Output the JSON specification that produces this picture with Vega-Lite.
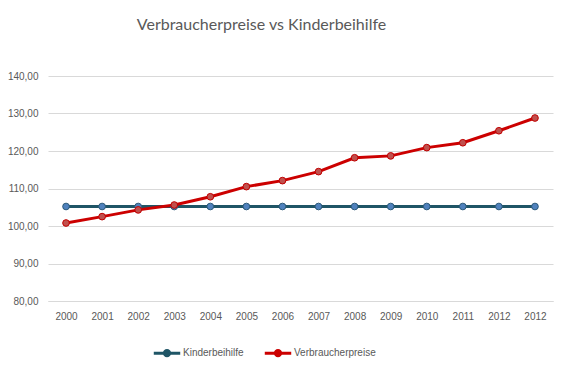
{
  "$schema": "https://vega.github.io/schema/vega-lite/v6.json",
  "autosize": "none",
  "width": 505,
  "height": 225,
  "padding": {"left": 48, "top": 76, "right": 15, "bottom": 70},
  "background": "white",
  "config": {
    "locale": {"number": {"decimal": ",", "thousands": ".", "grouping": [3], "currency": ["", " €"]}},
    "view": {"stroke": null},
    "font": "Liberation Sans"
  },
  "title": {
    "text": "Verbraucherpreise vs Kinderbeihilfe",
    "font": "Lato",
    "fontSize": 16,
    "fontWeight": "normal",
    "color": "#595959",
    "anchor": "middle",
    "dx": -39,
    "offset": 38
  },
  "data": {
    "values": [
      {"Jahr": "2000", "Serie": "Kinderbeihilfe", "Wert": 105.2},
      {"Jahr": "2001", "Serie": "Kinderbeihilfe", "Wert": 105.2},
      {"Jahr": "2002", "Serie": "Kinderbeihilfe", "Wert": 105.2},
      {"Jahr": "2003", "Serie": "Kinderbeihilfe", "Wert": 105.2},
      {"Jahr": "2004", "Serie": "Kinderbeihilfe", "Wert": 105.2},
      {"Jahr": "2005", "Serie": "Kinderbeihilfe", "Wert": 105.2},
      {"Jahr": "2006", "Serie": "Kinderbeihilfe", "Wert": 105.2},
      {"Jahr": "2007", "Serie": "Kinderbeihilfe", "Wert": 105.2},
      {"Jahr": "2008", "Serie": "Kinderbeihilfe", "Wert": 105.2},
      {"Jahr": "2009", "Serie": "Kinderbeihilfe", "Wert": 105.2},
      {"Jahr": "2010", "Serie": "Kinderbeihilfe", "Wert": 105.2},
      {"Jahr": "2011", "Serie": "Kinderbeihilfe", "Wert": 105.2},
      {"Jahr": "2012", "Serie": "Kinderbeihilfe", "Wert": 105.2},
      {"Jahr": "2012\u200b", "Serie": "Kinderbeihilfe", "Wert": 105.2},
      {"Jahr": "2000", "Serie": "Verbraucherpreise", "Wert": 100.8},
      {"Jahr": "2001", "Serie": "Verbraucherpreise", "Wert": 102.5},
      {"Jahr": "2002", "Serie": "Verbraucherpreise", "Wert": 104.3},
      {"Jahr": "2003", "Serie": "Verbraucherpreise", "Wert": 105.6},
      {"Jahr": "2004", "Serie": "Verbraucherpreise", "Wert": 107.8},
      {"Jahr": "2005", "Serie": "Verbraucherpreise", "Wert": 110.5},
      {"Jahr": "2006", "Serie": "Verbraucherpreise", "Wert": 112.1},
      {"Jahr": "2007", "Serie": "Verbraucherpreise", "Wert": 114.5},
      {"Jahr": "2008", "Serie": "Verbraucherpreise", "Wert": 118.2},
      {"Jahr": "2009", "Serie": "Verbraucherpreise", "Wert": 118.7},
      {"Jahr": "2010", "Serie": "Verbraucherpreise", "Wert": 120.9},
      {"Jahr": "2011", "Serie": "Verbraucherpreise", "Wert": 122.2},
      {"Jahr": "2012", "Serie": "Verbraucherpreise", "Wert": 125.4},
      {"Jahr": "2012\u200b", "Serie": "Verbraucherpreise", "Wert": 128.8}
    ]
  },
  "encoding": {
    "x": {
      "field": "Jahr",
      "type": "ordinal",
      "sort": null,
      "scale": {"type": "point", "padding": 0.5},
      "axis": {
        "title": null,
        "labelAngle": 0,
        "labelFont": "Liberation Sans",
        "labelFontSize": 10,
        "labelColor": "#595959",
        "labelPadding": 10,
        "ticks": false,
        "domain": true,
        "domainColor": "#d9d9d9",
        "domainWidth": 1,
        "grid": false
      }
    },
    "y": {
      "field": "Wert",
      "type": "quantitative",
      "scale": {"domain": [80, 140], "nice": false, "zero": false},
      "axis": {
        "title": null,
        "values": [80, 90, 100, 110, 120, 130, 140],
        "format": ".2f",
        "labelFont": "Liberation Sans",
        "labelFontSize": 10,
        "labelColor": "#595959",
        "labelPadding": 10,
        "ticks": false,
        "domain": false,
        "grid": true,
        "gridColor": "#d9d9d9",
        "gridWidth": 1
      }
    }
  },
  "layer": [
    {
      "mark": {"type": "line", "strokeWidth": 3},
      "encoding": {
        "color": {
          "field": "Serie",
          "type": "nominal",
          "scale": {"domain": ["Kinderbeihilfe", "Verbraucherpreise"], "range": ["#1f5566", "#cc0000"]},
          "legend": {
            "title": null,
            "orient": "none",
            "direction": "horizontal",
            "legendX": 104,
            "legendY": 262,
            "symbolType": "M-1,0H1M0.2,0A0.2,0.2,0,1,1,-0.2,0A0.2,0.2,0,1,1,0.2,0Z",
            "symbolStrokeWidth": 3,
            "symbolSize": 700,
            "labelFont": "Liberation Sans",
            "labelFontSize": 10,
            "labelColor": "#595959",
            "labelOffset": 1,
            "columnPadding": 14
          }
        }
      }
    },
    {
      "mark": {"type": "point", "filled": true, "size": 45, "strokeWidth": 1, "opacity": 1},
      "encoding": {
        "fill": {
          "field": "Serie",
          "type": "nominal",
          "scale": {"domain": ["Kinderbeihilfe", "Verbraucherpreise"], "range": ["#4f81bd", "#c0504d"]},
          "legend": null
        },
        "stroke": {
          "field": "Serie",
          "type": "nominal",
          "scale": {"domain": ["Kinderbeihilfe", "Verbraucherpreise"], "range": ["#2c5a7a", "#c00000"]},
          "legend": null
        }
      }
    }
  ]
}
